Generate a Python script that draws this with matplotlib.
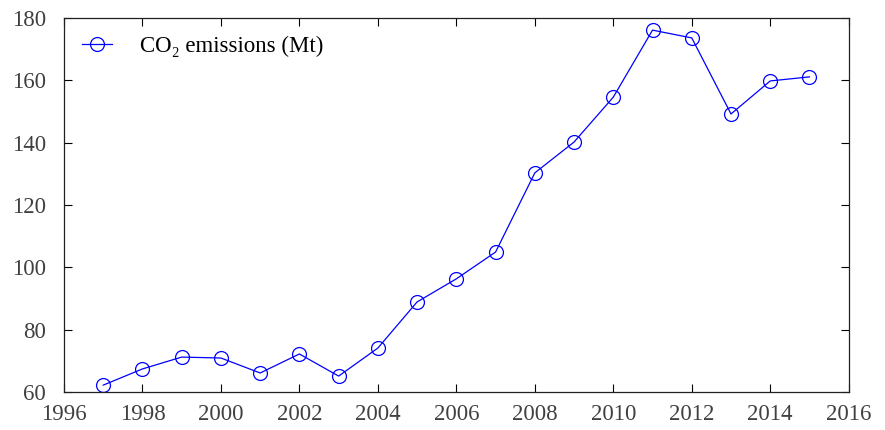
import matplotlib
matplotlib.use("Agg")
import matplotlib.pyplot as plt

# CO2 emissions per year (Mt)
years = [1997, 1998, 1999, 2000, 2001, 2002, 2003, 2004, 2005, 2006,
         2007, 2008, 2009, 2010, 2011, 2012, 2013, 2014, 2015]
emissions = [62.2, 67.4, 71.2, 70.9, 66.1, 72.2, 65.1, 74.1, 88.9, 96.3,
             104.9, 130.3, 140.2, 154.6, 176.1, 173.6, 149.2, 159.8, 161.1]

x_ticks = list(range(1996, 2017, 2))
y_ticks = list(range(60, 181, 20))

plt.rcParams['font.family'] = ['Liberation Serif', 'DejaVu Serif']

fig = plt.figure(figsize=(8.85, 4.3), dpi=100)
ax = fig.add_axes([0.0723, 0.0884, 0.8867, 0.8698])

ax.plot(years, emissions, color='#0000ff', linewidth=0.9,
        marker='o', markersize=10, markerfacecolor='none',
        markeredgecolor='#0000ff', markeredgewidth=0.9,
        label='CO₂ emissions (Mt)')

ax.set_xlim(1996, 2016)
ax.set_ylim(60, 180)
ax.set_xticks(x_ticks)
ax.set_yticks(y_ticks)
ax.tick_params(direction='in', length=6, width=0.8, top=True, right=True,
               labelsize=16.5, labelcolor='#404040')
ax.tick_params(axis='y', pad=13)
ax.tick_params(axis='x', pad=9)
for s in ax.spines.values():
    s.set_linewidth(0.9)
    s.set_color('#202020')

ax.legend(loc='upper left', frameon=False, fontsize=16.5, handlelength=1.3,
          handletextpad=1.2, borderaxespad=0.4, borderpad=0.4)

fig.savefig('out.png', dpi=100)
